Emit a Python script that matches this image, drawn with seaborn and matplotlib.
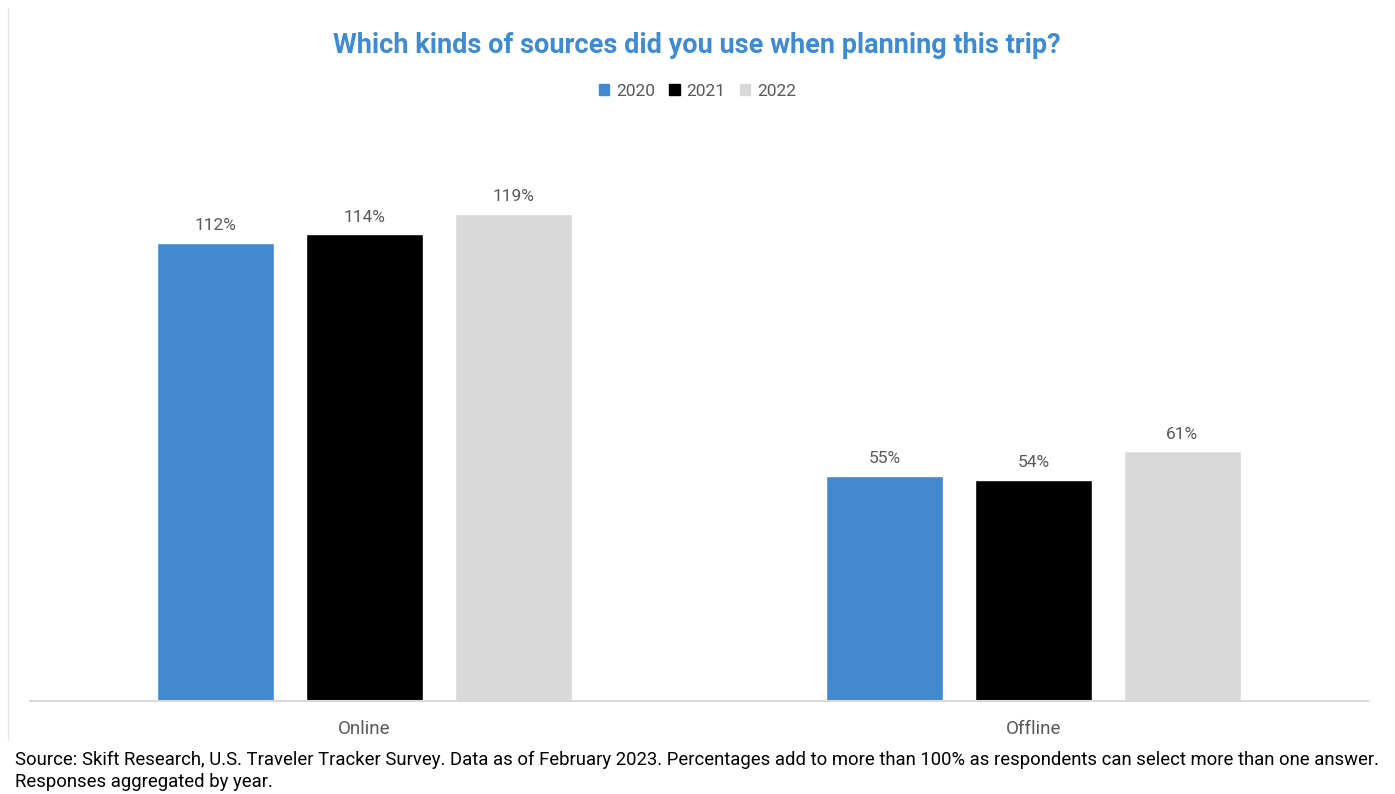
import matplotlib
matplotlib.use("Agg")
import matplotlib.pyplot as plt
from matplotlib.lines import Line2D
import seaborn as sns
import pandas as pd

# Survey results: share of respondents using each kind of source, by year
categories = ["Online", "Offline"]
years = ["2020", "2021", "2022"]
values_2020 = [112, 55]
values_2021 = [114, 54]
values_2022 = [119, 61]

colors = ["#418AD0", "#000000", "#D9D9D9"]

rows = []
for year, vals in zip(years, [values_2020, values_2021, values_2022]):
    for cat, v in zip(categories, vals):
        rows.append({"source": cat, "year": year, "pct": v})
df = pd.DataFrame(rows)

sns.set_theme(style="white")
plt.rcParams["font.family"] = ["Roboto", "DejaVu Sans"]

fig = plt.figure(figsize=(13.95, 7.94), dpi=100)
ax = fig.add_axes([0.0215, 0.1171, 0.9591, 0.7192])

sns.barplot(data=df, x="source", y="pct", hue="year", order=categories,
            hue_order=years, palette=colors, width=0.668, gap=0.22,
            saturation=1, legend=False, ax=ax)

ax.set_ylim(0, 139.5)
ax.set_xlim(-0.5, 1.5)
for container in ax.containers:
    ax.bar_label(container, fmt="%d%%", padding=7, fontsize=12.5, color="#595959")

ax.set_xlabel("")
ax.set_ylabel("")
ax.set_yticks([])
ax.tick_params(axis="x", length=0, pad=14, labelsize=13.5, labelcolor="#595959")
for side in ["left", "right", "top"]:
    ax.spines[side].set_visible(False)
ax.spines["bottom"].set_color("#D9D9D9")
ax.spines["bottom"].set_linewidth(1.5)

fig.text(0.4996, 0.943, "Which kinds of sources did you use when planning this trip?",
         ha="center", va="center", fontsize=19.5, fontweight="bold", color="#3F8BD1")

handles = [plt.Rectangle((0, 0), 1, 1, color=c) for c in colors]
fig.legend(handles, years, loc="center", bbox_to_anchor=(0.5, 0.885), ncol=3,
           frameon=False, fontsize=12.5, handlelength=0.6, handleheight=0.6,
           handletextpad=0.4, columnspacing=0.8, labelcolor="#595959")

fig.text(0.0108, 0.043,
         "Source: Skift Research, U.S. Traveler Tracker Survey. Data as of February 2023. "
         "Percentages add to more than 100% as respondents can select more than one answer.",
         ha="left", va="center", fontsize=13.3, color="#000000")
fig.text(0.0108, 0.015, "Responses aggregated by year.",
         ha="left", va="center", fontsize=13.3, color="#000000")

fig.add_artist(Line2D([0.0057, 0.0057], [0.068, 0.99], transform=fig.transFigure,
                      color="#E6E6E6", linewidth=1))

fig.savefig("out.png", dpi=100, facecolor="white")
